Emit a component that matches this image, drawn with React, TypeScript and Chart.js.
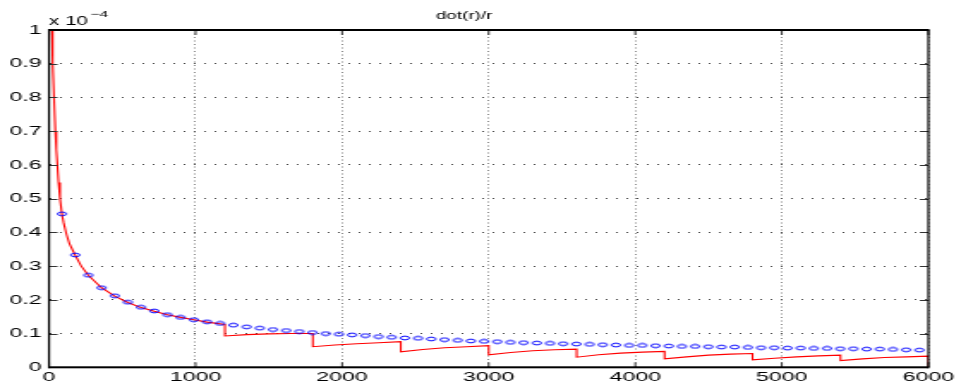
import React, { useEffect, useRef } from 'react';
import { Chart, registerables } from 'chart.js';

Chart.register(...registerables);

const TITLE = 'dot(r)/r';
const EXPONENT_BASE = 'x 10';
const EXPONENT_POWER = '\u22124';

const xTickValues = [0, 1000, 2000, 3000, 4000, 5000, 6000];
const xTickLabels = ['0', '1000', '2000', '3000', '4000', '5000', '6000'];
const yTickValues = [0, 0.1, 0.2, 0.3, 0.4, 0.5, 0.6, 0.7, 0.8, 0.9, 1];
const yTickLabels = ['0', '0.1', '0.2', '0.3', '0.4', '0.5', '0.6', '0.7', '0.8', '0.9', '1'];

// red line (values in units of 1e-4)
const redT = [
  20, 25, 34, 43, 50, 57, 65, 75, 88, 100, 120, 140, 178, 220, 268, 358, 448, 538, 628, 718, 808, 898, 988, 1078, 1200,
  1200, 1350, 1500, 1650, 1800,
  1800, 1950, 2100, 2250, 2400,
  2400, 2550, 2700, 2850, 3000,
  3000, 3150, 3300, 3450, 3600,
  3600, 3750, 3900, 4050, 4200,
  4200, 4350, 4500, 4650, 4800,
  4800, 4950, 5100, 5250, 5400,
  5400, 5550, 5700, 5850, 6000,
  6000,
];
const redV = [
  1.0, 0.9, 0.8, 0.7, 0.645, 0.6, 0.548, 0.5, 0.455, 0.428, 0.393, 0.366, 0.333, 0.3, 0.273, 0.236, 0.211, 0.192, 0.177, 0.166, 0.156, 0.148, 0.141, 0.134, 0.127,
  0.093, 0.097, 0.099, 0.1, 0.1,
  0.061, 0.066, 0.07, 0.073, 0.076,
  0.046, 0.053, 0.058, 0.061, 0.064,
  0.037, 0.044, 0.049, 0.052, 0.054,
  0.03, 0.037, 0.042, 0.045, 0.047,
  0.025, 0.031, 0.036, 0.039, 0.041,
  0.022, 0.027, 0.031, 0.034, 0.036,
  0.02, 0.025, 0.029, 0.031, 0.033,
  0,
];

// blue circles
const blueT = [
  88, 178, 268, 358, 448, 538, 628, 718, 808, 898,
  988, 1078, 1168, 1258, 1348, 1438, 1528, 1618, 1708, 1798,
  1888, 1978, 2068, 2158, 2248, 2338, 2428, 2518, 2608, 2698,
  2788, 2878, 2968, 3058, 3148, 3238, 3328, 3418, 3508, 3598,
  3688, 3778, 3868, 3958, 4048, 4138, 4228, 4318, 4408, 4498,
  4588, 4678, 4768, 4858, 4948, 5038, 5128, 5218, 5308, 5398,
  5488, 5578, 5668, 5758, 5848, 5938,
];
const blueV = [
  0.455, 0.333, 0.273, 0.236, 0.212, 0.193, 0.178, 0.167, 0.156, 0.148,
  0.141, 0.135, 0.13, 0.125, 0.12, 0.116, 0.112, 0.109, 0.106, 0.103,
  0.1, 0.098, 0.096, 0.094, 0.091, 0.089, 0.087, 0.086, 0.084, 0.082,
  0.08, 0.078, 0.077, 0.076, 0.074, 0.073, 0.072, 0.071, 0.07, 0.069,
  0.068, 0.067, 0.066, 0.065, 0.065, 0.064, 0.063, 0.062, 0.062, 0.061,
  0.06, 0.06, 0.059, 0.058, 0.058, 0.057, 0.057, 0.056, 0.056, 0.055,
  0.055, 0.054, 0.054, 0.053, 0.052, 0.051,
];

const FONT = '"Liberation Sans", Arial, Helvetica, sans-serif';
const BUF_W = 560;
const CSS_W = 961;
const H = 389;

function makeEllipse(): HTMLCanvasElement {
  const c = document.createElement('canvas');
  c.width = 8;
  c.height = 6;
  const g = c.getContext('2d')!;
  g.strokeStyle = '#0000ff';
  g.lineWidth = 1;
  g.beginPath();
  g.ellipse(4, 3, 2.5, 1.9, 0, 0, Math.PI * 2);
  g.stroke();
  return c;
}

const framePlugin = {
  id: 'matlabFrame',
  afterDatasetsDraw(chart: any) {
    const { ctx, chartArea, scales } = chart;
    const { left, right, top, bottom } = chartArea;
    ctx.save();
    ctx.strokeStyle = '#333';
    ctx.lineWidth = 1;
    ctx.beginPath();
    for (const v of yTickValues) {
      const y = Math.round(scales.y.getPixelForValue(v)) + 0.5;
      ctx.moveTo(left, y);
      ctx.lineTo(left + 5, y);
      ctx.moveTo(right, y);
      ctx.lineTo(right - 5, y);
    }
    for (const v of xTickValues) {
      const x = scales.x.getPixelForValue(v);
      ctx.moveTo(x, bottom);
      ctx.lineTo(x, bottom - 5);
      ctx.moveTo(x, top);
      ctx.lineTo(x, top + 5);
    }
    ctx.stroke();
    ctx.fillStyle = '#000';
    ctx.fillRect(left, top - 1, right - left, 2);
    ctx.fillRect(left, bottom - 1, right - left, 2);
    ctx.fillRect(left - 0.6, top - 1, 1.2, bottom - top + 2);
    ctx.fillRect(right - 0.6, top - 1, 1.2, bottom - top + 2);
    ctx.font = `12px ${FONT}`;
    ctx.textAlign = 'left';
    ctx.textBaseline = 'alphabetic';
    ctx.fillText(EXPONENT_BASE, left, 25);
    const w = ctx.measureText(EXPONENT_BASE).width;
    ctx.font = `9px ${FONT}`;
    ctx.fillText(EXPONENT_POWER, left + w + 1.5, 17);
    ctx.restore();
  },
};

export default function App() {
  const ref = useRef<HTMLCanvasElement>(null);
  useEffect(() => {
    if (!ref.current) return;
    const ellipse = makeEllipse();
    const chart = new Chart(ref.current, {
      type: 'line',
      data: {
        datasets: [
          {
            label: 'circles',
            data: blueT.map((t, i) => ({ x: t, y: blueV[i] })),
            showLine: false,
            pointStyle: ellipse as any,
            pointRadius: 3,
            borderColor: '#0000ff',
            order: 0,
          },
          {
            label: 'r',
            data: redT.map((t, i) => ({ x: t, y: redV[i] })),
            borderColor: '#ff0000',
            borderWidth: 1.1,
            pointRadius: 0,
            tension: 0,
            fill: false,
            order: 1,
          },
        ],
      },
      options: {
        responsive: false,
        maintainAspectRatio: false,
        devicePixelRatio: 1,
        animation: false,
        layout: { padding: { left: 0, right: 19, top: 0, bottom: 0 } },
        plugins: {
          legend: { display: false },
          tooltip: { enabled: false },
          title: {
            display: true,
            text: TITLE,
            color: '#000',
            font: { family: FONT, size: 11, weight: 'normal', lineHeight: 1.2 },
            padding: { top: 9.5, bottom: 7.3 },
          },
        },
        scales: {
          x: {
            type: 'linear',
            min: 0,
            max: 6000,
            afterBuildTicks: (scale: any) => {
              scale.ticks = xTickValues.map((v) => ({ value: v }));
            },
            afterFit: (scale: any) => {
              scale.height = 21.7;
            },
            ticks: {
              autoSkip: false,
              maxRotation: 0,
              padding: 2,
              color: '#000',
              font: { family: FONT, size: 13.5 },
              callback: (_v: any, i: number) => xTickLabels[i],
            },
            grid: { color: '#888', lineWidth: 1, drawTicks: false },
            border: { display: false, dash: [1, 2.5] },
          },
          y: {
            type: 'linear',
            min: 0,
            max: 1,
            afterBuildTicks: (scale: any) => {
              scale.ticks = yTickValues.map((v) => ({ value: v }));
            },
            afterFit: (scale: any) => {
              scale.width = 28.55;
            },
            ticks: {
              autoSkip: false,
              padding: 4.3,
              color: '#000',
              font: { family: FONT, size: 13.5 },
              callback: (_v: any, i: number) => yTickLabels[i],
            },
            grid: { color: '#444', lineWidth: 1, drawTicks: false },
            border: { display: false, dash: [1, 5] },
          },
        },
      },
      plugins: [framePlugin],
    });
    return () => chart.destroy();
  }, []);
  return (
    <div style={{ position: 'fixed', left: 0, top: 0, width: CSS_W, height: H, background: '#fff' }}>
      <canvas ref={ref} width={BUF_W} height={H} style={{ width: CSS_W, height: H, display: 'block' }} />
    </div>
  );
}
